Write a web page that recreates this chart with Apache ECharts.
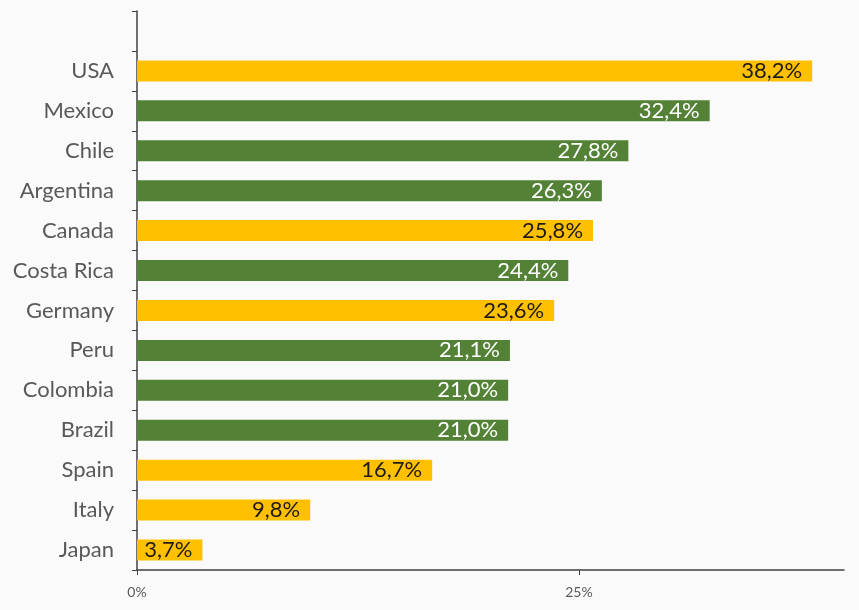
<!DOCTYPE html>
<html><head><meta charset="utf-8">
<script src="https://cdn.jsdelivr.net/npm/echarts@6/dist/echarts.min.js"></script>
<style>html,body{margin:0;padding:0;background:#fafafa}#c{width:859px;height:610px}</style>
</head><body><div id="c"></div>
<script>
const countries = ['USA','Mexico','Chile','Argentina','Canada','Costa Rica','Germany','Peru','Colombia','Brazil','Spain','Italy','Japan'];
const shares = [38.2,32.4,27.8,26.3,25.8,24.4,23.6,21.1,21.0,21.0,16.7,9.8,3.7];
const groups = ['other','latam','latam','latam','other','latam','other','latam','latam','latam','other','other','other'];
const xTicks = [0,25];

const COLORS = {other:'#FFC000', latam:'#538135'};
const LABEL_COLORS = {other:'#1f1a17', latam:'#ffffff'};
const FONT = 'Lato, "Noto Sans", sans-serif';

const cats = [''].concat(countries);
const data = [{value:'-'}].concat(shares.map((v,i)=>({
  value:v,
  itemStyle:{color:COLORS[groups[i]]},
  label:{color:LABEL_COLORS[groups[i]]}
})));
const fmt = v => v.toFixed(1).replace('.', ',') + '%';

const chart = echarts.init(document.getElementById('c'), null, {renderer:'canvas'});
chart.setOption({
  backgroundColor:'#fafafa',
  animation:false,
  grid:{left:137, right:15, top:11, bottom:40, containLabel:false},
  xAxis:{
    type:'value', min:0, max:40, interval:25,
    axisLine:{show:true, lineStyle:{color:'#404040', width:1.5}},
    axisTick:{show:true, length:5, lineStyle:{color:'#404040'}, customValues:xTicks},
    axisLabel:{color:'#595959', fontSize:14, fontFamily:FONT, margin:15, formatter:v=>v+'%', customValues:xTicks},
    splitLine:{show:true, showMaxLine:false, showMinLine:false, lineStyle:{color:'#d9d9d9', width:1}}
  },
  yAxis:{
    type:'category', data:cats, inverse:true,
    axisLine:{show:true, lineStyle:{color:'#404040', width:1.5}},
    axisTick:{show:true, length:5, lineStyle:{color:'#404040'}},
    axisLabel:{color:'#595959', fontSize:22, fontFamily:FONT, margin:23},
    splitLine:{show:false}
  },
  series:[{
    type:'bar', data:data, barWidth:21,
    label:{show:true, position:'insideRight', distance:10, fontSize:22, fontFamily:FONT,
      formatter:p=>fmt(p.value)}
  }]
});
</script></body></html>
